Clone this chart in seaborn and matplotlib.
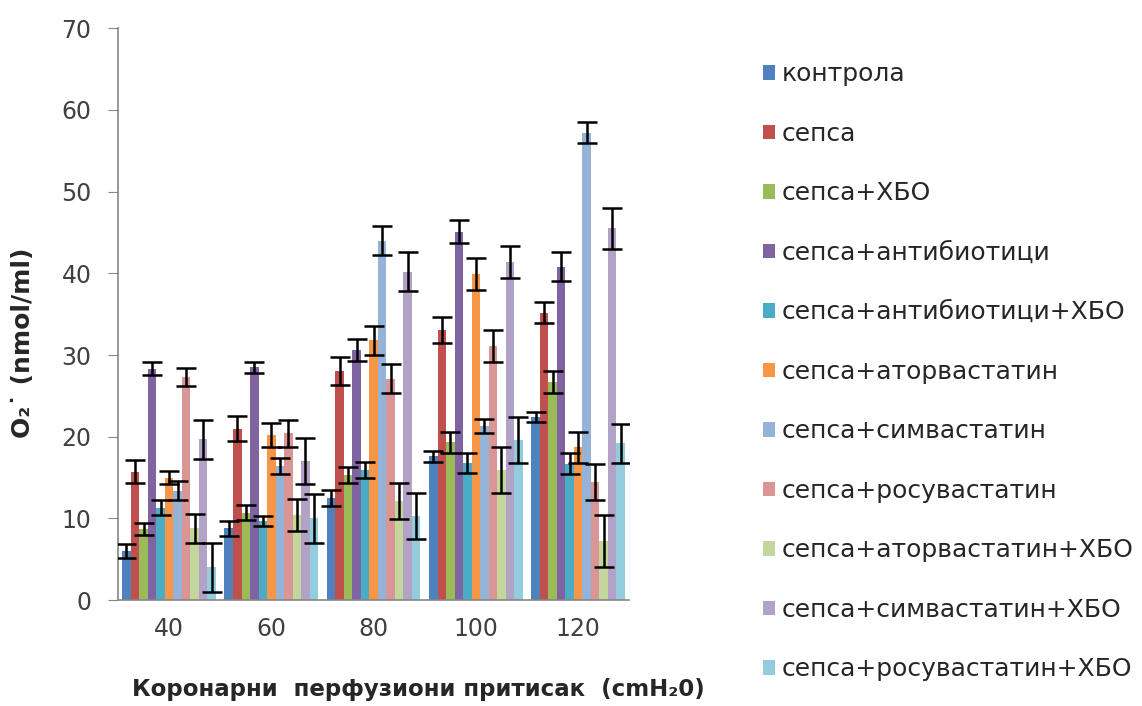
import pandas as pd
import matplotlib.pyplot as plt
import seaborn as sns

# Pressure levels (x categories)
pressures = ['40', '60', '80', '100', '120']

# Series names (legend)
series_names = ['контрола', 'сепса', 'сепса+ХБО', 'сепса+антибиотици',
                'сепса+антибиотици+ХБО', 'сепса+аторвастатин', 'сепса+симвастатин',
                'сепса+росувастатин', 'сепса+аторвастатин+ХБО',
                'сепса+симвастатин+ХБО', 'сепса+росувастатин+ХБО']

# Mean values per series
kontrola = [6.0, 8.8, 12.5, 17.6, 22.4]
sepsa = [15.7, 21.0, 28.0, 33.1, 35.2]
sepsa_hbo = [8.7, 10.7, 15.3, 19.3, 26.7]
antibiotici = [28.3, 28.5, 30.6, 45.1, 40.8]
antibiotici_hbo = [11.3, 9.7, 15.9, 16.8, 16.7]
atorva = [15.0, 20.2, 31.8, 39.9, 18.7]
simva = [13.4, 16.4, 44.0, 21.3, 57.2]
rosuva = [27.3, 20.4, 27.1, 31.1, 14.5]
atorva_hbo = [8.8, 10.4, 12.1, 15.9, 7.2]
simva_hbo = [19.7, 17.0, 40.2, 41.4, 45.5]
rosuva_hbo = [4.0, 10.0, 10.3, 19.6, 19.2]

# Error bar half-widths per series
err_kontrola = [0.9, 0.9, 1.0, 0.7, 0.6]
err_sepsa = [1.4, 1.5, 1.7, 1.6, 1.3]
err_sepsa_hbo = [0.7, 0.9, 1.0, 1.3, 1.4]
err_antibiotici = [0.8, 0.7, 1.3, 1.4, 1.8]
err_antibiotici_hbo = [0.9, 0.6, 1.0, 1.2, 1.3]
err_atorva = [0.8, 1.5, 1.8, 2.0, 1.9]
err_simva = [1.2, 1.0, 1.8, 0.9, 1.3]
err_rosuva = [1.1, 1.6, 1.8, 2.0, 2.2]
err_atorva_hbo = [1.8, 2.0, 2.2, 2.8, 3.2]
err_simva_hbo = [2.4, 2.8, 2.4, 2.0, 2.5]
err_rosuva_hbo = [3.0, 3.0, 2.8, 2.8, 2.4]

colors = ['#4F81BD', '#C0504D', '#9BBB59', '#8064A2', '#4BACC6', '#F79646',
          '#95B3D7', '#D99694', '#C3D69B', '#B3A2C7', '#93CDDD']

values = [kontrola, sepsa, sepsa_hbo, antibiotici, antibiotici_hbo, atorva,
          simva, rosuva, atorva_hbo, simva_hbo, rosuva_hbo]
errors = [err_kontrola, err_sepsa, err_sepsa_hbo, err_antibiotici,
          err_antibiotici_hbo, err_atorva, err_simva, err_rosuva,
          err_atorva_hbo, err_simva_hbo, err_rosuva_hbo]

# Long-form table for seaborn
rows = []
for name, vals in zip(series_names, values):
    for p, v in zip(pressures, vals):
        rows.append({'pressure': p, 'group': name, 'value': v})
df = pd.DataFrame(rows)

sns.set_style('white')
plt.rcParams['font.family'] = ['DejaVu Sans']

fig = plt.figure(figsize=(11.42, 7.06), dpi=100)
ax = fig.add_axes([0.1033, 0.150, 0.4477, 0.810])

sns.barplot(data=df, x='pressure', y='value', hue='group', order=pressures,
            hue_order=series_names, palette=colors, width=11 / 12,
            saturation=1, errorbar=None, linewidth=0, ax=ax)

# Error bars on top of each bar
for container, errs in zip(ax.containers, errors):
    xs = [bar.get_x() + bar.get_width() / 2 for bar in container]
    ys = [bar.get_height() for bar in container]
    ax.errorbar(xs, ys, yerr=errs, fmt='none', ecolor='black',
                elinewidth=1.8, capsize=7, capthick=1.8, zorder=5)

ax.set_ylim(0, 70)
ax.set_yticks(range(0, 71, 10))
ax.set_xlim(-0.5, 4.5)
ax.set_xticks(range(len(pressures)))
ax.set_xticklabels(pressures)
ax.set_xticks([i - 0.5 for i in range(len(pressures) + 1)], minor=True)
ax.tick_params(axis='x', which='major', length=0, labelsize=17, pad=12,
               labelcolor='#404040')
ax.tick_params(axis='x', which='minor', length=6, color='#868686', width=1)
ax.tick_params(axis='y', length=7, color='#868686', labelsize=17, pad=12,
               labelcolor='#404040', left=True)
for side in ['top', 'right']:
    ax.spines[side].set_visible(False)
for side in ['left', 'bottom']:
    ax.spines[side].set_color('#868686')
    ax.spines[side].set_linewidth(1.2)

ax.set_xlabel('Коронарни  перфузиони притисак  (cmH₂0)', fontsize=16.5,
              fontweight='bold')
ax.xaxis.set_label_coords(0.587, -0.136)
ax.set_ylabel('O₂˙ (nmol/ml)', fontsize=18, fontweight='bold')
ax.yaxis.set_label_coords(-0.162, 0.45)

handles, labels = ax.get_legend_handles_labels()
ax.legend(handles, labels, loc='upper left', bbox_to_anchor=(1.242, 0.958),
          frameon=False, fontsize=18, labelspacing=1.42, handlelength=0.5,
          handleheight=0.5, handletextpad=0.25, borderaxespad=0)

plt.savefig('out.png', dpi=100)
